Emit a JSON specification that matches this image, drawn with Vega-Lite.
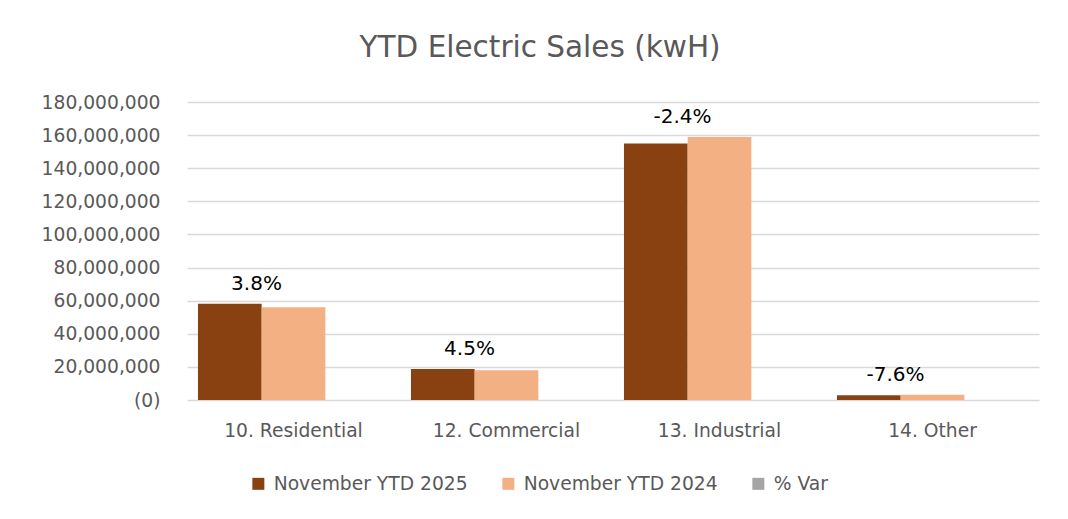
{
  "$schema": "https://vega.github.io/schema/vega-lite/v6.json",
  "width": 852,
  "height": 298,
  "autosize": {"type": "none"},
  "padding": {"left": 187, "top": 102, "right": 29, "bottom": 119},
  "background": "white",
  "config": {
    "view": {"stroke": null},
    "font": "DejaVu Sans",
    "axis": {"labelFont": "DejaVu Sans", "labelColor": "#595959"},
    "legend": {"labelFont": "DejaVu Sans"}
  },
  "title": {
    "text": "YTD Electric Sales (kwH)",
    "font": "DejaVu Sans",
    "fontSize": 29.5,
    "fontWeight": "normal",
    "color": "#595959",
    "anchor": "middle",
    "frame": "bounds",
    "offset": 30
  },
  "data": {
    "values": [
      {"category": "10. Residential", "series": "November YTD 2025", "value": 58100000},
      {"category": "10. Residential", "series": "November YTD 2024", "value": 56000000},
      {"category": "10. Residential", "series": "% Var", "value": 0.038},
      {"category": "12. Commercial", "series": "November YTD 2025", "value": 18800000},
      {"category": "12. Commercial", "series": "November YTD 2024", "value": 18000000},
      {"category": "12. Commercial", "series": "% Var", "value": 0.045},
      {"category": "13. Industrial", "series": "November YTD 2025", "value": 155000000},
      {"category": "13. Industrial", "series": "November YTD 2024", "value": 158800000},
      {"category": "13. Industrial", "series": "% Var", "value": -0.024},
      {"category": "14. Other", "series": "November YTD 2025", "value": 2900000},
      {"category": "14. Other", "series": "November YTD 2024", "value": 3140000},
      {"category": "14. Other", "series": "% Var", "value": -0.076}
    ]
  },
  "layer": [
    {
      "mark": {"type": "bar"},
      "encoding": {
        "x": {
          "field": "category",
          "type": "nominal",
          "scale": {"paddingInner": 0.103, "paddingOuter": 0.0515},
          "axis": {
            "title": null,
            "labelAngle": 0,
            "ticks": false,
            "domain": false,
            "labelFontSize": 18.7,
            "labelPadding": 21
          }
        },
        "xOffset": {
          "field": "series",
          "type": "nominal",
          "sort": ["November YTD 2025", "November YTD 2024", "% Var"],
          "scale": {"paddingInner": 0, "paddingOuter": 0}
        },
        "y": {
          "field": "value",
          "type": "quantitative",
          "scale": {"domain": [0, 180000000], "nice": false},
          "axis": {
            "title": null,
            "values": [0, 20000000, 40000000, 60000000, 80000000, 100000000, 120000000, 140000000, 160000000, 180000000],
            "labelExpr": "datum.value === 0 ? '(0)' : format(datum.value, ',')",
            "labelOverlap": false,
            "labelBound": false,
            "ticks": false,
            "domain": false,
            "gridColor": "#d9d9d9",
            "gridWidth": 1.5,
            "labelFontSize": 18.7,
            "labelPadding": 27
          }
        },
        "color": {
          "field": "series",
          "type": "nominal",
          "scale": {
            "domain": ["November YTD 2025", "November YTD 2024", "% Var"],
            "range": ["#8a4112", "#f3b083", "#a5a5a5"]
          },
          "legend": {
            "title": null,
            "orient": "none",
            "direction": "horizontal",
            "legendX": 62,
            "legendY": 372,
            "symbolType": "square",
            "symbolSize": 144,
            "symbolStrokeWidth": 0,
            "labelFontSize": 18.7,
            "labelLimit": 400,
            "labelColor": "#595959",
            "labelOffset": 6,
            "columnPadding": 31,
            "padding": 0
          }
        }
      }
    },
    {
      "transform": [
        {"joinaggregate": [{"op": "max", "field": "value", "as": "maxv"}], "groupby": ["category"]},
        {"filter": "datum.series === '% Var'"},
        {"calculate": "replace(format(datum.value, '.1%'), '\u2212', '-')", "as": "label"}
      ],
      "mark": {"type": "text", "dx": -37, "dy": -20, "baseline": "middle", "fontSize": 20, "color": "#000000", "font": "DejaVu Sans"},
      "encoding": {
        "x": {
          "field": "category",
          "type": "nominal",
          "axis": {
            "title": null,
            "labelAngle": 0,
            "ticks": false,
            "domain": false,
            "labelFontSize": 18.7,
            "labelPadding": 21
          }
        },
        "y": {
          "field": "maxv",
          "type": "quantitative",
          "axis": {
            "title": null,
            "values": [0, 20000000, 40000000, 60000000, 80000000, 100000000, 120000000, 140000000, 160000000, 180000000],
            "labelExpr": "datum.value === 0 ? '(0)' : format(datum.value, ',')",
            "labelOverlap": false,
            "labelBound": false,
            "ticks": false,
            "domain": false,
            "gridColor": "#d9d9d9",
            "gridWidth": 1.5,
            "labelFontSize": 18.7,
            "labelPadding": 27
          }
        },
        "text": {"field": "label"}
      }
    }
  ]
}
